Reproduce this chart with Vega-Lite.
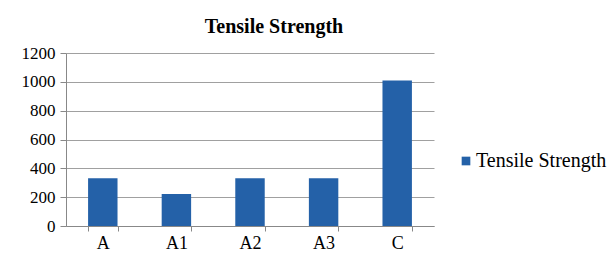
{
  "$schema": "https://vega.github.io/schema/vega-lite/v6.json",
  "width": 368,
  "height": 173,
  "autosize": "none",
  "padding": {"left": 66, "top": 53, "right": 177, "bottom": 34},
  "background": "white",
  "title": {
    "text": "Tensile Strength",
    "font": "Liberation Serif",
    "fontSize": 20,
    "fontWeight": "bold",
    "color": "#000000",
    "anchor": "middle",
    "dx": 24,
    "offset": 7
  },
  "data": {
    "values": [
      {"sample": "A", "value": 332, "series": "Tensile Strength"},
      {"sample": "A1", "value": 222, "series": "Tensile Strength"},
      {"sample": "A2", "value": 332, "series": "Tensile Strength"},
      {"sample": "A3", "value": 332, "series": "Tensile Strength"},
      {"sample": "C", "value": 1010, "series": "Tensile Strength"}
    ]
  },
  "mark": {"type": "bar"},
  "encoding": {
    "x": {
      "field": "sample",
      "type": "nominal",
      "sort": null,
      "scale": {"paddingInner": 0.6, "paddingOuter": 0.3},
      "axis": {
        "title": null,
        "labelAngle": 0,
        "tickBand": "extent",
        "tickSize": 5,
        "tickColor": "#888888",
        "domainColor": "#888888",
        "labelFont": "Liberation Serif",
        "labelFontSize": 18,
        "labelColor": "#000000",
        "labelPadding": 3,
        "grid": false
      }
    },
    "y": {
      "field": "value",
      "type": "quantitative",
      "scale": {"domain": [0, 1200], "nice": false},
      "axis": {
        "title": null,
        "values": [0, 200, 400, 600, 800, 1000, 1200],
        "format": "d",
        "tickSize": 6,
        "tickColor": "#888888",
        "domainColor": "#888888",
        "gridColor": "#A0A0A0",
        "labelFont": "Liberation Serif",
        "labelFontSize": 17,
        "labelColor": "#000000",
        "labelPadding": 5
      }
    },
    "fill": {
      "field": "series",
      "type": "nominal",
      "scale": {"range": ["#2461A8"]},
      "legend": {
        "title": null,
        "orient": "none",
        "legendX": 390,
        "legendY": 98,
        "symbolType": "square",
        "symbolSize": 75,
        "labelFont": "Liberation Serif",
        "labelFontSize": 20,
        "labelColor": "#000000",
        "labelOffset": 0
      }
    }
  },
  "config": {
    "view": {"stroke": null}
  }
}
